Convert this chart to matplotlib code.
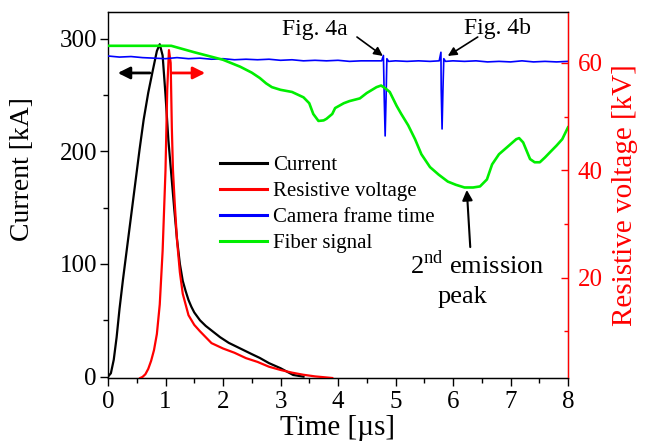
import matplotlib
matplotlib.use("Agg")
import matplotlib.pyplot as plt
from matplotlib.ticker import MultipleLocator

plt.rcParams['font.family'] = ['Liberation Serif', 'DejaVu Serif']
plt.rcParams['mathtext.fontset'] = 'custom'
plt.rcParams['mathtext.rm'] = 'Liberation Serif'

# current [kA] vs time [us]
cur_t = [0, 0.05, 0.1, 0.15, 0.2, 0.26, 0.35, 0.45, 0.55, 0.62, 0.7, 0.78, 0.85, 0.9,
         0.95, 1.0, 1.05, 1.1, 1.15, 1.2, 1.25, 1.3, 1.35, 1.4, 1.45, 1.5, 1.6, 1.7,
         1.8, 1.95, 2.1, 2.3, 2.5, 2.64, 2.8, 3.0, 3.22, 3.4]
cur_ka = [0, 3, 15, 35, 60, 86, 122, 162, 202, 228, 252, 272, 289, 295,
          285, 250, 210, 180, 150, 122, 100, 85, 76, 68, 62, 57, 50, 45,
          41, 35, 30, 25, 20, 16.6, 12, 7.5, 1.5, 0]

# resistive voltage [kV]
volt_t = [0.56, 0.6, 0.65, 0.7, 0.75, 0.8, 0.85, 0.9, 0.95, 1.0, 1.03, 1.06, 1.09,
          1.11, 1.13, 1.16, 1.2, 1.25, 1.3, 1.4, 1.5, 1.6, 1.8, 2.0, 2.2, 2.4, 2.6,
          2.8, 3.0, 3.2, 3.4, 3.6, 3.8, 3.9]
volt_kv = [1.3, 1.5, 2.0, 3, 4.5, 6.5, 9.5, 15, 25, 40, 55, 62.4, 60,
           48, 40, 34, 27, 21, 17, 13, 11.2, 10, 7.8, 6.8, 6.0, 5.0, 4.3,
           3.4, 2.8, 2.3, 1.9, 1.6, 1.4, 1.3]

# camera frame time (plotted on the kV scale)
cam_t = [0, 0.2, 0.4, 0.6, 0.8, 1.0, 1.2, 1.4, 1.6, 1.8, 2.0, 2.2, 2.4, 2.6, 2.8,
         3.0, 3.2, 3.4, 3.6, 3.8, 4.0, 4.2, 4.4, 4.6, 4.76, 4.79, 4.805, 4.82,
         4.835, 4.85, 4.88, 5.0, 5.2, 5.4, 5.6, 5.76, 5.79, 5.795, 5.81, 5.825,
         5.84, 5.87, 6.0, 6.2, 6.4, 6.6, 6.8, 7.0, 7.2, 7.4, 7.6, 7.8, 8.0]
cam_kv = [61.3, 61.1, 61.2, 61.0, 60.9, 60.8, 61.0, 60.8, 60.9, 60.7, 60.8, 60.6,
          60.7, 60.6, 60.7, 60.5, 60.6, 60.4, 60.5, 60.4, 60.5, 60.3, 60.4, 60.4,
          60.4, 61.4, 53, 46.4, 53, 60.8, 60.3, 60.4, 60.3, 60.4, 60.3, 60.4,
          62.0, 55, 47.7, 55, 60.8, 60.3, 60.4, 60.3, 60.4, 60.2, 60.3, 60.2,
          60.4, 60.2, 60.3, 60.2, 60.3]

# fiber signal (arb., plotted on the kV scale)
fib_t = [0, 1.1, 1.5, 2.0, 2.3, 2.5, 2.64, 2.75, 2.85, 3.0, 3.2, 3.4, 3.5, 3.57,
         3.66, 3.75, 3.8, 3.9, 3.95, 4.1, 4.2, 4.38, 4.5, 4.67, 4.75, 4.82, 4.9,
         5.02, 5.1, 5.22, 5.34, 5.45, 5.6, 5.75, 5.91, 6.05, 6.2, 6.35, 6.47, 6.59,
         6.68, 6.8, 6.94, 7.1, 7.15, 7.22, 7.34, 7.42, 7.51, 7.6, 7.69, 7.8, 7.9, 8.0]
fib_kv = [63.2, 63.2, 62.0, 60.6, 59.3, 58.2, 57.2, 56.2, 55.5, 55.0, 54.6, 53.6, 52.5,
          50.5, 49.2, 49.3, 49.6, 50.5, 51.6, 52.5, 52.9, 53.4, 54.4, 55.5, 55.8, 55.3,
          54.6, 52.0, 50.5, 48.4, 45.8, 43.0, 40.6, 39.2, 37.9, 37.3, 36.8, 36.8, 37.0,
          38.3, 41.1, 43.0, 44.3, 45.8, 46.0, 45.2, 42.1, 41.5, 41.5, 42.4, 43.4, 44.6,
          45.8, 48.0]

fig = plt.figure(figsize=(6.52, 4.41), dpi=100)
ax = fig.add_axes([108 / 652, 63 / 441, 460 / 652, 366 / 441])
ax2 = ax.twinx()

l1, = ax.plot(cur_t, cur_ka, color='black', lw=1.6, label='Current')
l2, = ax2.plot(volt_t, volt_kv, color='red', lw=1.6, label='Resistive voltage')
l3, = ax2.plot(cam_t, cam_kv, color='blue', lw=1.2, label='Camera frame time')
l4, = ax2.plot(fib_t, fib_kv, color='#00ee00', lw=1.9, label='Fiber signal')

ax.set_xlim(0, 8)
ax.set_ylim(-1.2, 323.6)
ax2.set_ylim(1.3, 69.5)

ax.xaxis.set_major_locator(MultipleLocator(1))
ax.xaxis.set_minor_locator(MultipleLocator(0.5))
ax.yaxis.set_major_locator(MultipleLocator(100))
ax.yaxis.set_minor_locator(MultipleLocator(50))
ax2.yaxis.set_minor_locator(MultipleLocator(10))
ax2.set_yticks([20, 40, 60])

ax.tick_params(axis='both', which='major', direction='out', length=6, width=1,
               labelsize=18, pad=2)
ax.tick_params(axis='both', which='minor', direction='out', length=3.5, width=1)
ax.tick_params(axis='x', which='major', pad=3)
ax2.tick_params(axis='y', which='major', direction='in', length=5, width=1,
                colors='red', labelsize=18, pad=7)
ax2.tick_params(axis='y', which='minor', direction='in', length=3, width=1, colors='red')

for s in ['left', 'bottom', 'top']:
    ax.spines[s].set_linewidth(1)
ax2.spines['right'].set_color('red')
ax2.spines['right'].set_linewidth(1)
ax2.spines['left'].set_visible(False)

ax.set_xlabel('Time [µs]', fontsize=21)
ax.xaxis.set_label_coords(0.5, -0.1)
ax.set_ylabel('Current [kA]', fontsize=20)
ax.yaxis.set_label_coords(-0.158, 0.57)
ax2.set_ylabel('Resistive voltage [kV]', fontsize=21, color='red')
ax2.yaxis.set_label_coords(1.095, 0.5)

leg = ax2.legend(handles=[l1, l2, l3, l4], loc='upper left', bbox_to_anchor=(0.226, 0.63),
                 frameon=False, fontsize=15, handlelength=2.25, handletextpad=0.3,
                 labelspacing=0.3, borderaxespad=0)
for h in leg.legend_handles:
    h.set_linewidth(2.2)

# direction arrows
ax.annotate('', xy=(0.17, 269.5), xytext=(0.73, 269.5),
            arrowprops=dict(arrowstyle='-|>', color='black', lw=2, mutation_scale=18,
                            shrinkA=0, shrinkB=0))
ax.annotate('', xy=(1.69, 269.5), xytext=(1.11, 269.5),
            arrowprops=dict(arrowstyle='-|>', color='red', lw=2, mutation_scale=18,
                            shrinkA=0, shrinkB=0))

# frame labels
ax.text(3.6, 308, 'Fig. 4a', fontsize=17, ha='center', va='center')
ax.annotate('', xy=(4.78, 284.6), xytext=(4.33, 301.4),
            arrowprops=dict(arrowstyle='-|>', color='black', lw=1.2, mutation_scale=13,
                            shrinkA=0, shrinkB=0))
ax.text(6.77, 309, 'Fig. 4b', fontsize=17, ha='center', va='center')
ax.annotate('', xy=(5.91, 284.6), xytext=(6.43, 301.4),
            arrowprops=dict(arrowstyle='-|>', color='black', lw=1.2, mutation_scale=13,
                            shrinkA=0, shrinkB=0))

ax.text(6.42, 99, r'2$^{\mathrm{nd}}$ emission', fontsize=19, ha='center', va='center')
ax.text(6.16, 70.7, 'peak', fontsize=19, ha='center', va='center')
ax.annotate('', xy=(6.24, 165.7), xytext=(6.3, 115),
            arrowprops=dict(arrowstyle='-|>', color='black', lw=1.5, mutation_scale=15,
                            shrinkA=0, shrinkB=0))

fig.savefig('out.png', dpi=100)
